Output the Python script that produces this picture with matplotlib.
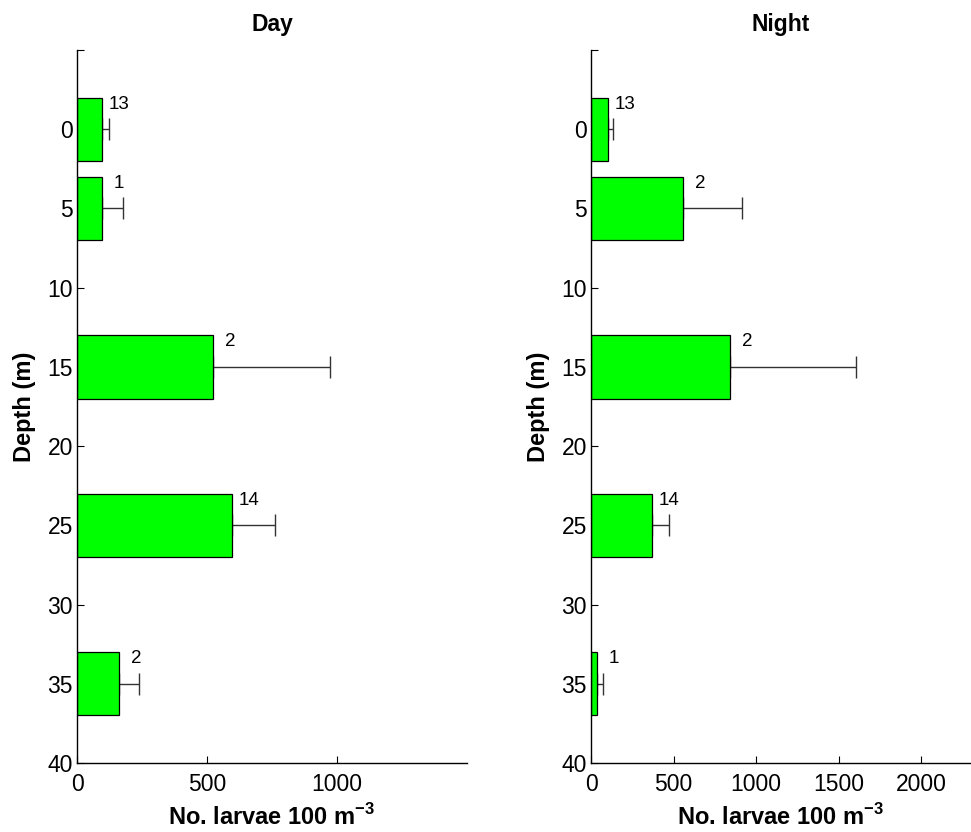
import matplotlib
matplotlib.use("Agg")
import matplotlib.pyplot as plt

plt.rcParams['font.family'] = ['Liberation Sans', 'DejaVu Sans']
plt.rcParams['mathtext.fontset'] = 'custom'
plt.rcParams['mathtext.bf'] = 'Liberation Sans:bold'
plt.rcParams['mathtext.rm'] = 'Liberation Sans'

depths = [0, 5, 15, 25, 35]
day_values = [95, 95, 524, 598, 162]
day_upper = [124, 175, 973, 760, 238]
day_n = ["13", "1", "2", "14", "2"]
night_values = [101, 557, 840, 368, 38]
night_upper = [131, 911, 1602, 475, 75]
night_n = ["13", "2", "2", "14", "1"]

yticks = [-5, 0, 5, 10, 15, 20, 25, 30, 35, 40]
yticklabels = ["", "0", "5", "10", "15", "20", "25", "30", "35", "40"]

W, H = 971, 832
fig = plt.figure(figsize=(W / 100, H / 100), dpi=100)

panels = [
    ("Day", day_values, day_upper, day_n, (0, 1500), [0, 500, 1000], 77, 467),
    ("Night", night_values, night_upper, night_n, (0, 2300), [0, 500, 1000, 1500, 2000], 591, 971),
]

for title, vals, upper, ns, xlim, xticks, x0, x1 in panels:
    ax = fig.add_axes([x0 / W, 1 - 763 / H, (x1 - x0) / W, (763 - 50) / H])
    err = [u - v for u, v in zip(upper, vals)]
    ax.errorbar(vals, depths, xerr=[[0] * len(vals), err], fmt='none',
                ecolor='#333333', elinewidth=1.0, capsize=8, capthick=1.0, zorder=1)
    ax.barh(depths, vals, height=4, color='#00ff00', edgecolor='black',
            linewidth=0.9, zorder=2)
    for v, d, n in zip(vals, depths, ns):
        ax.annotate(n, xy=(v, d), xytext=(17, 25), textcoords='offset pixels',
                    ha='center', va='center', fontsize=13.5)
    ax.set_xlim(*xlim)
    ax.set_ylim(40, -5)
    ax.set_yticks(yticks)
    ax.set_yticklabels(yticklabels)
    ax.set_xticks(xticks)
    ax.tick_params(direction='in', length=5, width=0.8, labelsize=16.5, pad=3)
    ax.tick_params(axis='x', pad=7)
    ax.spines['top'].set_visible(False)
    ax.spines['right'].set_visible(False)
    for s in ('left', 'bottom'):
        ax.spines[s].set_linewidth(1.0)
    ax.set_title(title, fontsize=16.5, fontweight='bold', pad=14)
    ax.set_xlabel(r'No. larvae 100 m$^{\mathbf{-3}}$', fontsize=17, fontweight='bold', labelpad=6)
    ax.set_ylabel('Depth (m)', fontsize=17, fontweight='bold', labelpad=8)

fig.savefig('out.png', dpi=100)
